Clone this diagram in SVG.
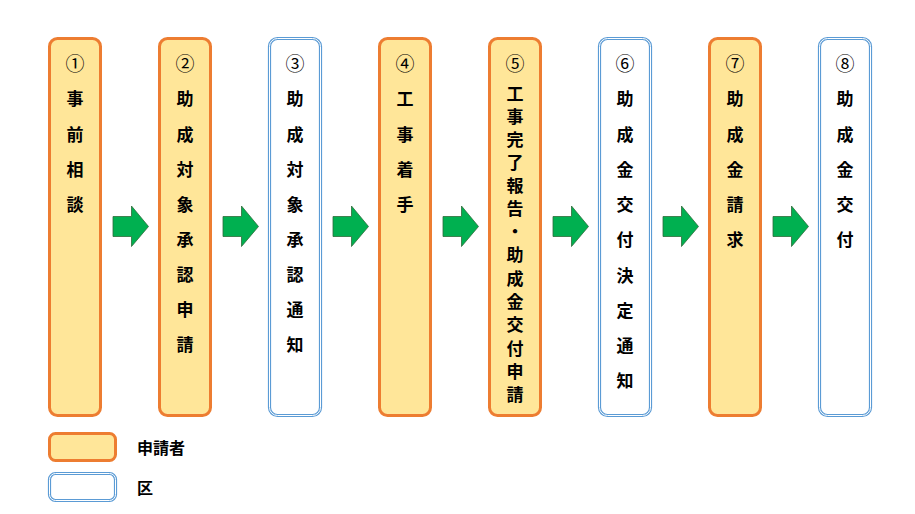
<svg xmlns="http://www.w3.org/2000/svg" width="915" height="514" viewBox="0 0 915 514">
<defs>
<style>
.app{fill:#FFE699;stroke:#ED7D31;stroke-width:3}
.ku{fill:#FFFFFF;stroke:#5B9BD5;stroke-width:3.2}
.kuin{fill:none;stroke:#FFFFFF;stroke-width:1}
.t{font-family:"Noto Sans CJK JP","Noto Sans CJK SC",sans-serif;font-size:17px;font-weight:bold;fill:#000;text-anchor:middle;dominant-baseline:central}
.n{font-family:"Noto Sans CJK JP","Noto Sans CJK SC",sans-serif;font-size:19px;font-weight:normal;fill:#000;text-anchor:middle;dominant-baseline:central}
.lg{font-family:"Noto Sans CJK JP","Noto Sans CJK SC",sans-serif;font-size:16px;font-weight:bold;fill:#000;dominant-baseline:central}
.arr{fill:#00B050;stroke:#2E6B3A;stroke-width:0.8}
</style>
<path id="ar" d="M113,216.5 H131.5 V206 L148.5,226.5 L131.5,246.5 V236.5 H113 Z"/>
</defs>
<rect width="915" height="514" fill="#FFFFFF"/>
<g id="connectors">
<use href="#ar" class="arr"/>
<use href="#ar" class="arr" x="110"/>
<use href="#ar" class="arr" x="220"/>
<use href="#ar" class="arr" x="330"/>
<use href="#ar" class="arr" x="440"/>
<use href="#ar" class="arr" x="550"/>
<use href="#ar" class="arr" x="660"/>
</g>
<g id="n1">
<rect class="app" x="49.5" y="38.5" width="51" height="377" rx="8"/>
<text class="n" x="75" y="62">①</text>
<text class="t" x="75" y="97">事</text>
<text class="t" x="75" y="133">前</text>
<text class="t" x="75" y="168">相</text>
<text class="t" x="75" y="203">談</text>
</g>
<g id="n2">
<rect class="app" x="159.5" y="38.5" width="51" height="377" rx="8"/>
<text class="n" x="185" y="62">②</text>
<text class="t" x="185" y="97">助</text>
<text class="t" x="185" y="133">成</text>
<text class="t" x="185" y="168">対</text>
<text class="t" x="185" y="203">象</text>
<text class="t" x="185" y="238">承</text>
<text class="t" x="185" y="273">認</text>
<text class="t" x="185" y="308">申</text>
<text class="t" x="185" y="343">請</text>
</g>
<g id="n3">
<rect class="ku" x="269.5" y="38.5" width="51" height="377" rx="8"/>
<rect class="kuin" x="269.5" y="38.5" width="51" height="377" rx="8"/>
<text class="n" x="295" y="62">③</text>
<text class="t" x="295" y="97">助</text>
<text class="t" x="295" y="133">成</text>
<text class="t" x="295" y="168">対</text>
<text class="t" x="295" y="203">象</text>
<text class="t" x="295" y="238">承</text>
<text class="t" x="295" y="273">認</text>
<text class="t" x="295" y="308">通</text>
<text class="t" x="295" y="343">知</text>
</g>
<g id="n4">
<rect class="app" x="379.5" y="38.5" width="51" height="377" rx="8"/>
<text class="n" x="405" y="62">④</text>
<text class="t" x="405" y="97">工</text>
<text class="t" x="405" y="133">事</text>
<text class="t" x="405" y="168">着</text>
<text class="t" x="405" y="203">手</text>
</g>
<g id="n5">
<rect class="app" x="489.5" y="38.5" width="51" height="377" rx="8"/>
<text class="n" x="515" y="62">⑤</text>
<text class="t" x="515" y="92">工</text>
<text class="t" x="515" y="115">事</text>
<text class="t" x="515" y="138">完</text>
<text class="t" x="515" y="161">了</text>
<text class="t" x="515" y="184">報</text>
<text class="t" x="515" y="207">告</text>
<text class="t" x="515" y="230">・</text>
<text class="t" x="515" y="253">助</text>
<text class="t" x="515" y="277">成</text>
<text class="t" x="515" y="300">金</text>
<text class="t" x="515" y="323">交</text>
<text class="t" x="515" y="347">付</text>
<text class="t" x="515" y="370">申</text>
<text class="t" x="515" y="393">請</text>
</g>
<g id="n6">
<rect class="ku" x="599.5" y="38.5" width="51" height="377" rx="8"/>
<rect class="kuin" x="599.5" y="38.5" width="51" height="377" rx="8"/>
<text class="n" x="625" y="62">⑥</text>
<text class="t" x="625" y="97">助</text>
<text class="t" x="625" y="133">成</text>
<text class="t" x="625" y="168">金</text>
<text class="t" x="625" y="203">交</text>
<text class="t" x="625" y="238">付</text>
<text class="t" x="625" y="274">決</text>
<text class="t" x="625" y="309">定</text>
<text class="t" x="625" y="344">通</text>
<text class="t" x="625" y="379">知</text>
</g>
<g id="n7">
<rect class="app" x="709.5" y="38.5" width="51" height="377" rx="8"/>
<text class="n" x="735" y="62">⑦</text>
<text class="t" x="735" y="97">助</text>
<text class="t" x="735" y="133">成</text>
<text class="t" x="735" y="168">金</text>
<text class="t" x="735" y="203">請</text>
<text class="t" x="735" y="238">求</text>
</g>
<g id="n8">
<rect class="ku" x="819.5" y="38.5" width="51" height="377" rx="8"/>
<rect class="kuin" x="819.5" y="38.5" width="51" height="377" rx="8"/>
<text class="n" x="845" y="62">⑧</text>
<text class="t" x="845" y="97">助</text>
<text class="t" x="845" y="133">成</text>
<text class="t" x="845" y="168">金</text>
<text class="t" x="845" y="203">交</text>
<text class="t" x="845" y="238">付</text>
</g>
<g id="legend-applicant">
<rect class="app" x="49.5" y="433.5" width="66" height="27" rx="6"/>
<text class="lg" x="137" y="447">申請者</text>
</g>
<g id="legend-ward">
<rect class="ku" x="49.5" y="473.5" width="66" height="27" rx="6"/>
<rect class="kuin" x="49.5" y="473.5" width="66" height="27" rx="6"/>
<text class="lg" x="137" y="487">区</text>
</g>
</svg>
